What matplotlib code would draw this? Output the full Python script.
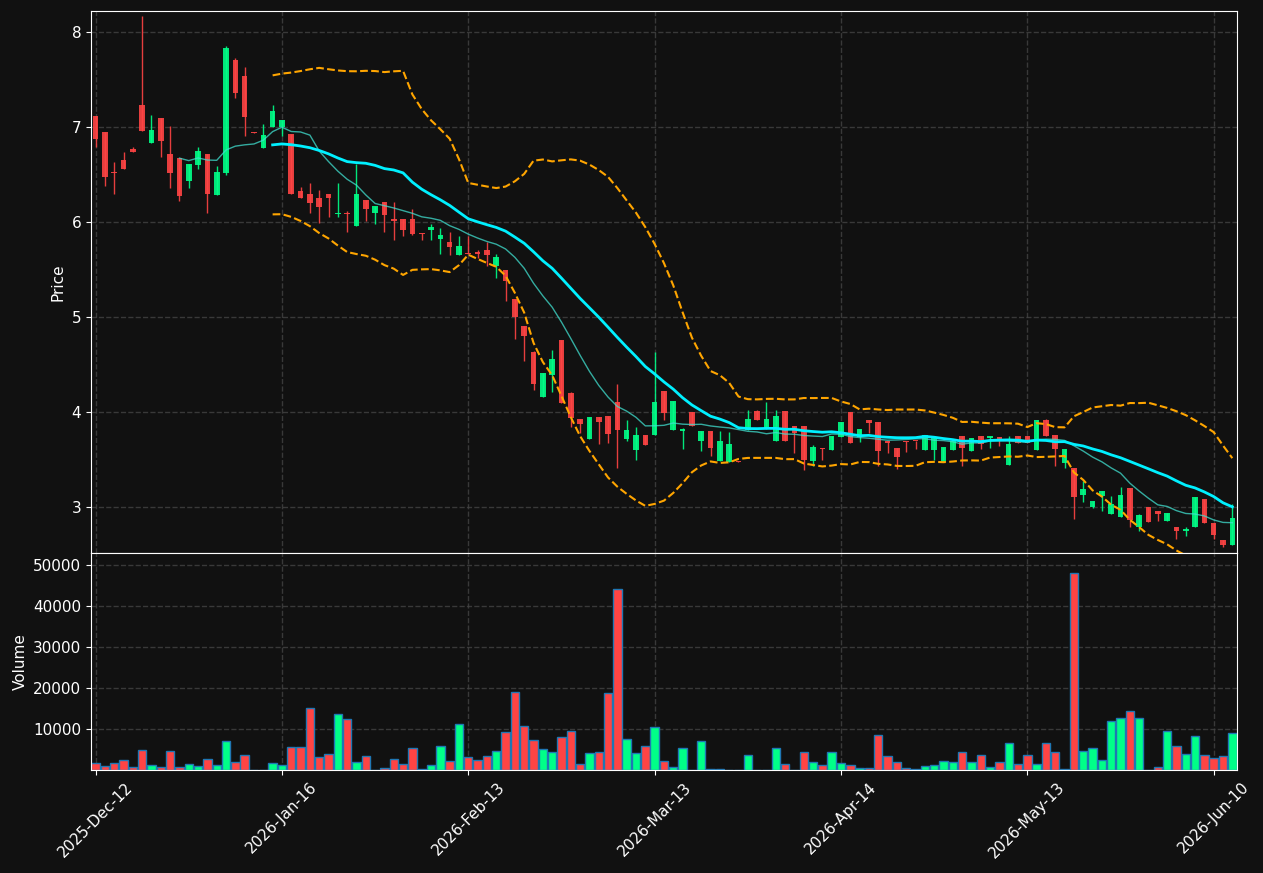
import numpy as np
import pandas as pd
import matplotlib
matplotlib.use("Agg")
import matplotlib.pyplot as plt

# OHLCV, one entry per trading day
opens = [7.12, 6.95, 6.53, 6.65, 6.77, 7.23, 6.83, 7.10, 6.72, 6.67,
         6.43, 6.60, 6.72, 6.29, 6.52, 7.70, 7.54, 6.95, 6.78, 7.00,
         7.00, 6.93, 6.33, 6.30, 6.25, 6.30, 6.09, 6.10, 5.96, 6.23,
         6.10, 6.21, 6.03, 6.03, 6.03, 5.89, 5.92, 5.82, 5.79, 5.65,
         5.68, 5.69, 5.71, 5.54, 5.50, 5.19, 4.91, 4.63, 4.16, 4.39,
         4.76, 4.20, 3.93, 3.72, 3.95, 3.96, 4.11, 3.72, 3.60, 3.76,
         3.76, 4.22, 3.81, 3.80, 4.00, 3.70, 3.80, 3.49, 3.48, 3.485,
         3.81, 4.01, 3.82, 3.70, 4.01, 3.86, 3.86, 3.49, 3.63, 3.60,
         3.74, 4.00, 3.74, 3.92, 3.90, 3.70, 3.63, 3.695, 3.70, 3.60,
         3.60, 3.48, 3.60, 3.75, 3.59, 3.75, 3.73, 3.74, 3.45, 3.75,
         3.75, 3.60, 3.92, 3.76, 3.47, 3.41, 3.13, 3.01, 3.12, 2.93,
         2.90, 3.21, 2.80, 3.00, 2.96, 2.86, 2.80, 2.75, 2.79, 3.09,
         2.84, 2.66, 2.61]
highs = [7.12, 6.95, 6.63, 6.74, 6.79, 8.17, 7.13, 7.10, 7.01, 6.67,
         6.61, 6.79, 6.72, 6.59, 7.85, 7.73, 7.63, 6.95, 7.03, 7.23,
         7.07, 6.93, 6.37, 6.41, 6.34, 6.30, 6.41, 6.12, 6.61, 6.23,
         6.17, 6.21, 6.21, 6.03, 6.14, 5.89, 5.98, 5.94, 5.90, 5.85,
         5.85, 5.71, 5.79, 5.67, 5.50, 5.19, 4.91, 4.65, 4.41, 4.66,
         4.76, 4.21, 3.93, 3.95, 3.95, 3.96, 4.30, 3.92, 3.85, 3.76,
         4.63, 4.22, 4.12, 3.84, 4.00, 3.80, 3.80, 3.80, 3.79, 3.485,
         4.02, 4.02, 4.11, 4.03, 4.01, 3.86, 3.86, 3.66, 3.63, 3.75,
         3.90, 4.00, 3.82, 3.92, 3.90, 3.70, 3.63, 3.695, 3.70, 3.76,
         3.74, 3.64, 3.70, 3.75, 3.73, 3.75, 3.75, 3.74, 3.75, 3.75,
         3.75, 3.92, 3.93, 3.76, 3.62, 3.41, 3.28, 3.07, 3.17, 3.12,
         3.22, 3.21, 2.93, 3.00, 2.96, 2.94, 2.80, 2.80, 3.11, 3.09,
         2.84, 2.66, 3.04]
lows = [6.79, 6.38, 6.30, 6.56, 6.74, 6.96, 6.83, 6.69, 6.36, 6.22,
        6.36, 6.56, 6.10, 6.29, 6.50, 7.31, 6.91, 6.94, 6.78, 7.00,
        6.91, 6.30, 6.25, 6.10, 5.99, 6.05, 6.05, 5.90, 5.96, 6.01,
        5.98, 5.90, 5.81, 5.85, 5.87, 5.81, 5.81, 5.67, 5.65, 5.65,
        5.66, 5.62, 5.54, 5.41, 5.17, 4.77, 4.54, 4.24, 4.16, 4.21,
        4.10, 3.85, 3.78, 3.72, 3.67, 3.68, 3.41, 3.70, 3.50, 3.66,
        3.76, 3.92, 3.81, 3.61, 3.86, 3.59, 3.54, 3.49, 3.48, 3.48,
        3.81, 3.92, 3.82, 3.70, 3.70, 3.57, 3.39, 3.44, 3.50, 3.60,
        3.74, 3.68, 3.69, 3.78, 3.44, 3.57, 3.40, 3.58, 3.61, 3.60,
        3.50, 3.48, 3.60, 3.44, 3.59, 3.61, 3.63, 3.65, 3.45, 3.68,
        3.68, 3.60, 3.75, 3.44, 3.42, 2.88, 3.06, 2.99, 2.96, 2.93,
        2.90, 2.79, 2.75, 2.85, 2.86, 2.86, 2.67, 2.70, 2.79, 2.84,
        2.67, 2.58, 2.61]
closes = [6.87, 6.47, 6.52, 6.56, 6.74, 6.96, 6.97, 6.85, 6.52, 6.27,
          6.61, 6.75, 6.30, 6.53, 7.83, 7.36, 7.11, 6.94, 6.92, 7.17,
          7.07, 6.30, 6.25, 6.20, 6.16, 6.25, 6.10, 6.09, 6.30, 6.14,
          6.17, 6.07, 6.01, 5.92, 5.88, 5.88, 5.95, 5.87, 5.74, 5.75,
          5.67, 5.66, 5.65, 5.63, 5.38, 5.00, 4.80, 4.30, 4.41, 4.56,
          4.10, 3.94, 3.88, 3.95, 3.90, 3.77, 3.81, 3.81, 3.76, 3.66,
          4.11, 3.99, 4.12, 3.83, 3.86, 3.80, 3.63, 3.70, 3.67, 3.48,
          3.93, 3.92, 3.93, 3.96, 3.70, 3.78, 3.50, 3.64, 3.62, 3.75,
          3.90, 3.68, 3.82, 3.89, 3.59, 3.68, 3.53, 3.688, 3.695, 3.76,
          3.74, 3.64, 3.70, 3.63, 3.73, 3.67, 3.75, 3.70, 3.67, 3.68,
          3.68, 3.92, 3.75, 3.61, 3.62, 3.11, 3.19, 3.07, 3.17, 3.04,
          3.13, 2.87, 2.92, 2.85, 2.93, 2.94, 2.75, 2.77, 3.11, 2.84,
          2.71, 2.61, 2.89]
volumes = [1700, 980, 1700, 2440, 730, 4880, 1220, 730, 4630, 730,
           1460, 980, 2680, 1220, 7070, 1950, 3660, 0, 0, 1710,
           1220, 5610, 5610, 15120, 3170, 3900, 13660, 12440, 1950, 3410,
           0, 490, 2680, 1460, 5370, 200, 1220, 5850, 2200, 11220,
           3170, 2440, 3410, 4630, 9270, 19020, 10730, 7320, 5120, 4390,
           8050, 9510, 1460, 4150, 4390, 18780, 44150, 7560, 4150, 5850,
           10490, 2200, 730, 5370, 0, 7070, 240, 240, 0, 0,
           3660, 0, 0, 5370, 1460, 0, 4390, 1950, 1220, 4390,
           1710, 1220, 490, 490, 8540, 3410, 1950, 490, 240, 980,
           1220, 2200, 1950, 4390, 1950, 3660, 730, 1950, 6590, 1460,
           3660, 1460, 6590, 4390, 240, 48050, 4630, 5370, 2440, 11950,
           12680, 14390, 12680, 0, 730, 9510, 5850, 3900, 8290, 3660,
           2930, 3410, 9020]
tick_labels = ["2025-Dec-12", "2026-Jan-16", "2026-Feb-13", "2026-Mar-13",
               "2026-Apr-14", "2026-May-13", "2026-Jun-10"]

bg = "#111111"
up_color = "#00ff88"
down_color = "#ff4444"

o = np.array(opens)
h = np.array(highs)
l = np.array(lows)
c = np.array(closes)
v = np.array(volumes)
x = np.arange(len(c))
up = c >= o
colors = np.where(up, up_color, down_color)

# indicators from the closes
close_s = pd.Series(c)
ma10 = close_s.rolling(10).mean()
ma20 = close_s.rolling(20).mean()
std20 = close_s.rolling(20).std(ddof=0)
upper = ma20 + 2 * std20
lower = ma20 - 2 * std20

fig, (ax, axv) = plt.subplots(2, 1, figsize=(12.63, 8.73), dpi=100, sharex=True,
                              gridspec_kw={"height_ratios": [5, 2]})
fig.patch.set_facecolor(bg)
fig.subplots_adjust(left=0.072, right=0.9794, top=0.9874, bottom=0.118, hspace=0)

# candles
ax.vlines(x, l, h, colors=colors, linewidth=1, alpha=0.9, zorder=2)
body = np.maximum(np.abs(c - o), 0.01)
ax.bar(x, body, bottom=np.minimum(o, c), width=0.6, color=colors, alpha=0.9, zorder=3)

ax.plot(x, ma10, color="turquoise", linewidth=1, alpha=0.75, zorder=4)
ax.plot(x, ma20, color="#00f0ff", linewidth=2, zorder=4)
ax.plot(x, upper, color="orange", linestyle="--", linewidth=1.5, zorder=4)
ax.plot(x, lower, color="orange", linestyle="--", linewidth=1.5, zorder=4)

ax.set_ylim(2.52, 8.22)
ax.set_ylabel("Price", color="white", fontsize=11)

# volume
axv.bar(x, v, width=0.9, color=colors, edgecolor="#1f77b4", linewidth=1)
axv.set_ylim(0, v.max() * 1.1)
axv.set_yticks([10000, 20000, 30000, 40000, 50000])
axv.set_ylabel("Volume", color="white", fontsize=11)

axv.set_xlim(-0.5, len(c) - 0.5)
axv.set_xticks(np.arange(0, len(c), 20))
axv.set_xticklabels(tick_labels, rotation=45)

for a in (ax, axv):
    a.set_facecolor(bg)
    a.grid(True, linestyle="--", color="#444444", linewidth=1, alpha=0.8)
    a.set_axisbelow(True)
    a.tick_params(colors="white", labelsize=11)
    for s in a.spines.values():
        s.set_color("white")

plt.savefig("out.png", dpi=100, facecolor=bg)
